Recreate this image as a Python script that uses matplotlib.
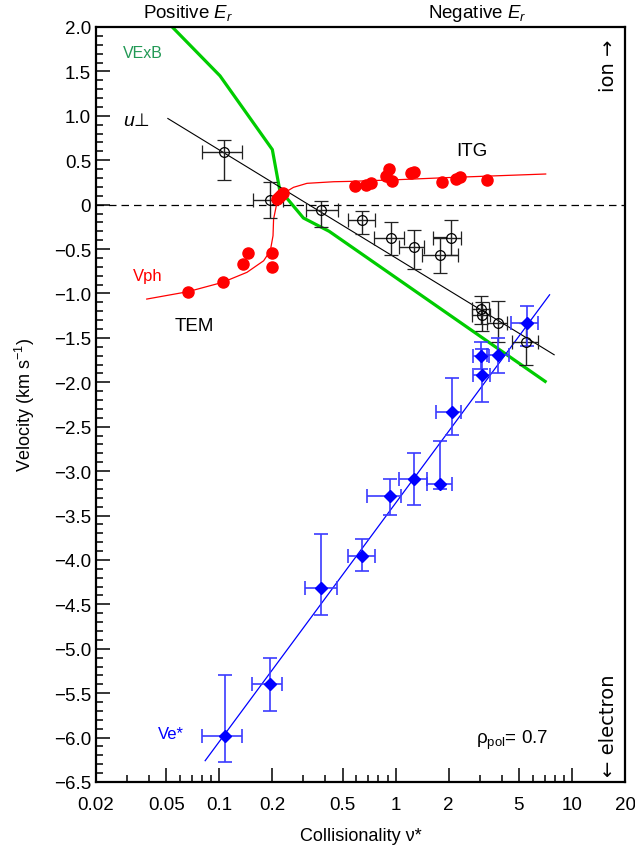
import matplotlib
matplotlib.use("Agg")
import matplotlib.pyplot as plt
from matplotlib.ticker import FixedLocator, NullFormatter, FixedFormatter
import numpy as np

plt.rcParams['font.family'] = ['Liberation Sans', 'DejaVu Sans']
plt.rcParams['mathtext.fontset'] = 'custom'
plt.rcParams['mathtext.rm'] = 'Liberation Sans'
plt.rcParams['mathtext.it'] = 'Liberation Sans:italic'

# ---------------- data ----------------
# u_perp (open circles)
u_nu = [0.107, 0.193, 0.378, 0.647, 0.936, 1.28, 1.78, 2.06, 3.04, 3.08, 3.81, 5.52]
u_v = [0.59, 0.055, -0.057, -0.17, -0.38, -0.48, -0.57, -0.37, -1.17, -1.24, -1.33, -1.55]
u_nu_lo = [0.080, 0.155, 0.311, 0.54, 0.75, 1.05, 1.42, 1.63, 2.70, 2.72, 3.30, 4.60]
u_nu_hi = [0.134, 0.229, 0.470, 0.76, 1.12, 1.45, 2.25, 2.34, 3.40, 3.45, 4.30, 6.40]
u_v_lo = [0.28, -0.15, -0.256, -0.33, -0.57, -0.73, -0.77, -0.57, -1.34, -1.42, -1.55, -1.80]
u_v_hi = [0.73, 0.26, 0.044, -0.075, -0.20, -0.28, -0.36, -0.17, -1.03, -1.10, -1.09, -1.33]
# u_perp fit line
u_fit_nu = [0.0511, 7.93]
u_fit_v = [0.97, -1.69]

# v_ExB
exb_nu = [0.05, 0.101, 0.200, 0.220, 0.300, 0.42, 7.05]
exb_v = [2.07, 1.45, 0.62, 0.17, -0.15, -0.30, -1.99]

# phase velocity (red dots)
ph_nu = [0.0664, 0.1044, 0.136, 0.146, 0.200, 0.200, 0.212, 0.218, 0.224, 0.230,
         0.587, 0.681, 0.730, 0.885, 0.916, 0.957, 1.217, 1.27, 1.825, 2.19, 2.32, 3.29]
ph_v = [-0.98, -0.875, -0.669, -0.549, -0.542, -0.706, 0.06, 0.09, 0.11, 0.13,
        0.206, 0.224, 0.24, 0.325, 0.40, 0.269, 0.353, 0.364, 0.251, 0.288, 0.307, 0.28]
# phase velocity fit curve
phc_nu = [0.0388, 0.0664, 0.1044, 0.1436, 0.1785, 0.1948, 0.2018, 0.2033, 0.2107,
          0.2281, 0.2637, 0.3145, 0.446, 0.555, 1.0, 2.0, 4.0, 7.1]
phc_v = [-1.063, -0.98, -0.875, -0.762, -0.632, -0.519, -0.35, -0.162, -0.012,
         0.12, 0.195, 0.24, 0.258, 0.262, 0.28, 0.305, 0.327, 0.345]

# electron diamagnetic velocity (blue diamonds)
e_nu = [0.1077, 0.195, 0.379, 0.641, 0.928, 1.28, 1.78, 2.08, 3.04, 3.08, 3.80, 5.55]
e_v = [-5.98, -5.40, -4.32, -3.95, -3.28, -3.09, -3.15, -2.34, -1.70, -1.915, -1.69, -1.337]
e_nu_lo = [0.080, 0.154, 0.308, 0.54, 0.69, 1.05, 1.50, 1.70, 2.75, 2.75, 3.30, 4.50]
e_nu_hi = [0.134, 0.226, 0.468, 0.76, 1.07, 1.50, 2.10, 2.34, 3.40, 3.45, 4.40, 6.40]
e_v_lo = [-6.28, -5.70, -4.62, -4.13, -3.49, -3.38, -3.20, -2.59, -1.85, -2.22, -1.90, -1.59]
e_v_hi = [-5.29, -5.10, -3.71, -3.76, -3.09, -2.80, -2.66, -1.95, -1.55, -1.63, -1.50, -1.145]
e_fit_nu = [0.0832, 7.47]
e_fit_v = [-6.26, -1.015]

# ticks
x_major = [0.02, 0.05, 0.1, 0.2, 0.5, 1, 2, 5, 10, 20]
x_labels = ['0.02', '0.05', '0.1', '0.2', '0.5', '1', '2', '5', '10', '20']
y_major = [2.0, 1.5, 1.0, 0.5, 0.0, -0.5, -1.0, -1.5, -2.0, -2.5, -3.0, -3.5, -4.0,
           -4.5, -5.0, -5.5, -6.0, -6.5]
y_labels = ['2.0', '1.5', '1.0', '0.5', '0', '\u22120.5', '\u22121.0', '\u22121.5', '\u22122.0',
            '\u22122.5', '\u22123.0', '\u22123.5', '\u22124.0', '\u22124.5', '\u22125.0',
            '\u22125.5', '\u22126.0', '\u22126.5']

# ---------------- figure ----------------
fig = plt.figure(figsize=(6.35, 8.54), dpi=100)
ax = fig.add_axes([96/635, 1-783/854, (625-96)/635, (783-28)/854])
ax.set_xscale('log')
ax.set_xlim(0.02, 20)
ax.set_ylim(-6.5, 2.0)

ax.axhline(0, color='black', lw=0.9, ls=(0, (6, 4)), zorder=1)

# green ExB
ax.plot(exb_nu, exb_v, color='#00cc00', lw=2.3, zorder=2)

# u_perp
ax.plot(u_fit_nu, u_fit_v, color='black', lw=0.8, zorder=3)
u_nu_a = np.array(u_nu); u_v_a = np.array(u_v)
ax.errorbar(u_nu, u_v,
            xerr=[u_nu_a - np.array(u_nu_lo), np.array(u_nu_hi) - u_nu_a],
            yerr=[u_v_a - np.array(u_v_lo), np.array(u_v_hi) - u_v_a],
            fmt='o', mfc='none', mec='black', ms=7, mew=0.9,
            ecolor='#222222', elinewidth=1.0, capsize=5, capthick=1.0, zorder=4)

# blue electron
ax.plot(e_fit_nu, e_fit_v, color='blue', lw=0.9, zorder=3)
e_nu_a = np.array(e_nu); e_v_a = np.array(e_v)
ax.errorbar(e_nu, e_v,
            xerr=[e_nu_a - np.array(e_nu_lo), np.array(e_nu_hi) - e_nu_a],
            yerr=[e_v_a - np.array(e_v_lo), np.array(e_v_hi) - e_v_a],
            fmt='D', color='blue', ms=6.5, mec='blue',
            ecolor='#3b3bff', elinewidth=1.2, capsize=5, capthick=1.2, zorder=4)

# red phase velocity
ax.plot(phc_nu, phc_v, color='red', lw=0.9, zorder=3)
ax.plot(ph_nu, ph_v, 'o', color='red', ms=8, mec='red', zorder=5)

# ticks
ax.xaxis.set_major_locator(FixedLocator(x_major))
ax.xaxis.set_major_formatter(FixedFormatter(x_labels))
minors = [m * d for d in [0.01, 0.1, 1, 10] for m in range(2, 10)]
minors = [v for v in minors if 0.02 <= v <= 20 and not any(abs(v - t) < 1e-9 for t in x_major)]
ax.xaxis.set_minor_locator(FixedLocator(minors))
ax.xaxis.set_minor_formatter(NullFormatter())
ax.yaxis.set_major_locator(FixedLocator(y_major))
ax.yaxis.set_major_formatter(FixedFormatter(y_labels))
ax.yaxis.set_minor_locator(FixedLocator(np.arange(-6.5, 2.01, 0.1)))
ax.tick_params(which='both', direction='in', top=False, right=False, labelsize=13.5, width=1.1)
ax.tick_params(which='major', length=10)
ax.tick_params(which='minor', length=5)
ax.tick_params(axis='x', pad=10)
for s in ax.spines.values():
    s.set_linewidth(1.6)

ax.set_xlabel('Collisionality \u03bd*', fontsize=13, labelpad=10)
ax.set_ylabel('Velocity (km s$^{-1}$)', fontsize=13, labelpad=12)

# annotations
fig.text(188/635, 1-13/854, 'Positive $\\mathit{E}_{\\mathit{r}}$', fontsize=13.5, ha='center', va='center')
fig.text(477/635, 1-13/854, 'Negative $\\mathit{E}_{\\mathit{r}}$', fontsize=13.5, ha='center', va='center')

def px(x, y):
    return (x/635, 1-y/854)

fig.text(*px(123, 54), 'VExB', color='#229955', fontsize=11.5, ha='left', va='center')
fig.text(*px(123, 122), 'u', color='black', fontsize=14, style='italic', ha='left', va='center')
fig.text(*px(133, 121), '\u22a5', color='black', fontsize=13, family=['DejaVu Sans'], ha='left', va='center')
fig.text(*px(472, 152), 'ITG', color='black', fontsize=13.5, ha='center', va='center')
fig.text(*px(133, 277), 'Vph', color='red', fontsize=12, ha='left', va='center')
fig.text(*px(194, 327), 'TEM', color='black', fontsize=13.5, ha='center', va='center')
fig.text(*px(158, 735), 'Ve*', color='blue', fontsize=12, ha='left', va='center')
fig.text(*px(476, 740), '$\\mathrm{\\rho_{pol}}$= 0.7', color='black', fontsize=13.5, ha='left', va='center')
fig.text(*px(608, 66), 'ion \u2192', rotation=90, fontsize=14, family=['DejaVu Sans'], ha='center', va='center')
fig.text(*px(608, 726), '\u2190 electron', rotation=90, fontsize=14, family=['DejaVu Sans'], ha='center', va='center')

fig.savefig('out.png', dpi=100)
